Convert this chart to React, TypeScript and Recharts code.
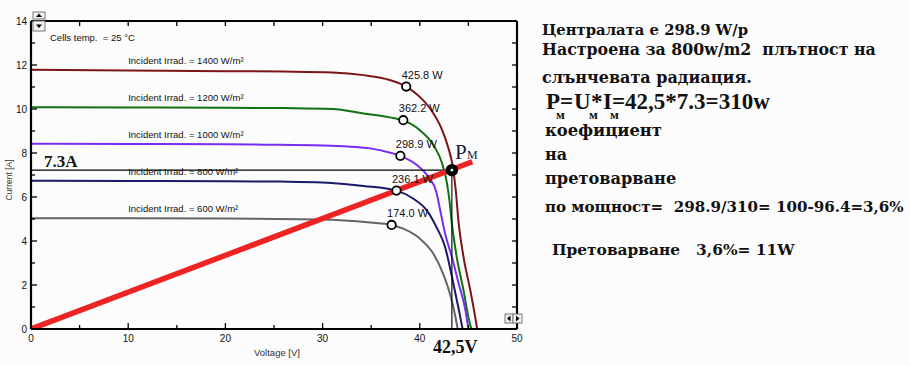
import React from 'react';
import { ComposedChart, Line, Scatter, XAxis, YAxis } from 'recharts';

// I-V curves: [voltage V, current A]
const curve1400 = [
  [0, 11.78], [10, 11.75], [20, 11.72], [26, 11.7], [31, 11.66], [34.2, 11.54], [36.9, 11.32],
  [38.6, 11.02], [40, 10.55], [41.4, 9.8], [42.3, 9.04], [42.9, 8.28], [43.4, 7.37], [43.7, 6.3],
  [44, 4.8], [44.5, 3.27], [45.2, 1.75], [45.7, 0.54], [45.9, 0],
];
const curve1200 = [
  [0, 10.08], [10, 10.07], [20, 10.06], [26, 10.04], [31, 10.0], [34.2, 9.8], [36.9, 9.62],
  [38.3, 9.48], [40, 9.04], [41.4, 8.36], [42.3, 7.52], [42.8, 6.61], [43.05, 5.85], [43.3, 4.79],
  [43.8, 3.27], [44.5, 1.75], [45, 0.54], [45.3, 0],
];
const curve1000 = [
  [0, 8.42], [10, 8.41], [20, 8.4], [24, 8.38], [30, 8.34], [34.9, 8.21], [36.6, 8.05],
  [38, 7.87], [39.7, 7.45], [40.9, 6.91], [41.7, 6.23], [42.1, 5.4], [42.6, 4.34], [43.3, 3.27],
  [44, 2.06], [44.7, 0.84], [45, 0],
];
const curve800 = [
  [0, 6.74], [10, 6.73], [20, 6.72], [25.6, 6.7], [30, 6.66], [34.2, 6.5], [37.6, 6.29],
  [39.3, 5.93], [40.7, 5.4], [41.7, 4.64], [42.6, 3.73], [43.1, 2.81], [43.6, 1.75], [44.1, 0.69],
  [44.4, 0],
];
const curve600 = [
  [0, 5.03], [10, 5.03], [20, 5.02], [30, 4.98], [34.9, 4.84], [37.1, 4.73], [38.3, 4.56],
  [40, 4.11], [41.4, 3.42], [42.4, 2.51], [43.1, 1.6], [43.6, 0.69], [43.9, 0],
];

// maximum power points and their labels
const mppPoints = [[38.6, 11.02], [38.3, 9.49], [38.0, 7.87], [37.6, 6.29], [37.1, 4.73]];
const mppLabels = ['425.8 W', '362.2 W', '298.9 W', '236.1 W', '174.0 W'];

// irradiance captions sit just above each curve at 10 V
const irradLevels = [1400, 1200, 1000, 800, 600];
const irradCurrents = [11.74, 10.07, 8.4, 6.72, 5.02];

const loadLine = [[0, 0], [45.4, 7.6]];
const pmGuide = [[0, 7.22], [43.3, 7.22], [43.3, 0]];
const pmPoint = [[43.3, 7.22]];

const voltageTicks = [0, 5, 10, 15, 20, 25, 30, 35, 40, 45, 50];
const currentTicks = [0, 1, 2, 3, 4, 5, 6, 7, 8, 9, 10, 11, 12, 13, 14];

const pts = (arr: number[][]) => arr.map(([v, i]) => ({ v, i }));

const series = [
  { key: '1400', data: curve1400, color: '#7c1518' },
  { key: '1200', data: curve1200, color: '#0f7312' },
  { key: '1000', data: curve1000, color: '#7a2cf0' },
  { key: '800', data: curve800, color: '#1b1a68' },
  { key: '600', data: curve600, color: '#666666' },
];

const sans = '"Liberation Sans", Arial, sans-serif';
const serif = '"Liberation Serif", "Times New Roman", serif';
const bookSerif = '"DejaVu Serif", serif';
const sp = (s: string) => s.replace(/ /g, '\u00A0');

const BottomTick = (p: any) => {
  const major = p.payload.value % 10 === 0;
  return (
    <g>
      <line x1={p.x} y1={p.y} x2={p.x} y2={p.y - (major ? 6 : 4)} stroke="#000" strokeWidth={1.3} />
      {major && (
        <text x={p.x} y={p.y + 13} textAnchor="middle" fontSize={10} fontFamily={sans} fill="#111">
          {p.payload.value}
        </text>
      )}
    </g>
  );
};

const LeftTick = (p: any) => {
  const major = p.payload.value % 2 === 0;
  return (
    <g>
      <line x1={p.x} y1={p.y} x2={p.x + (major ? 6 : 4)} y2={p.y} stroke="#000" strokeWidth={1.3} />
      {major && (
        <text x={p.x - 4} y={p.y + 3.5} textAnchor="end" fontSize={10} fontFamily={sans} fill="#111">
          {p.payload.value}
        </text>
      )}
    </g>
  );
};

const TopTick = (p: any) => (
  <line x1={p.x} y1={p.y} x2={p.x} y2={p.y + 5} stroke="#000" strokeWidth={1.3} />
);

const RightTick = (p: any) => (
  <line x1={p.x} y1={p.y} x2={p.x - 5} y2={p.y} stroke="#000" strokeWidth={1.3} />
);

const MppShape = (p: any) => (
  <g>
    <circle cx={p.cx} cy={p.cy} r={4.2} fill="#fff" stroke="#000" strokeWidth={1.8} />
    <text x={p.cx - 4.5} y={p.cy - 12} dominantBaseline="central" fontSize={11} fontFamily={sans} fill="#111">
      {p.payload.label}
    </text>
  </g>
);

const IrradShape = (p: any) => (
  <text x={p.cx} y={p.cy - 10} dominantBaseline="central" fontSize={9.5} fontFamily={sans} fill="#111">
    {`Incident Irrad. = ${p.payload.level} W/m²`}
  </text>
);

const PmShape = (p: any) => (
  <g>
    <circle cx={p.cx} cy={p.cy} r={5.5} fill="#000" stroke="#000" strokeWidth={1.5} />
    <circle cx={p.cx} cy={p.cy} r={1.3} fill="#fff" />
    <text x={p.cx + 3} y={p.cy - 11} fontSize={21} fontFamily={serif} fill="#1a1a3a">P</text>
    <text x={p.cx + 15} y={p.cy - 11} fontSize={12} fontFamily={serif} fill="#1a1a3a">М</text>
  </g>
);

const ScrollBtn = ({ x, y, w, h, dir }: any) => {
  const cx = x + w / 2;
  const cy = y + h / 2;
  const t =
    dir === 'up' ? `${cx - 3},${cy + 1.5} ${cx + 3},${cy + 1.5} ${cx},${cy - 2}` :
    dir === 'down' ? `${cx - 3},${cy - 1.5} ${cx + 3},${cy - 1.5} ${cx},${cy + 2}` :
    dir === 'left' ? `${cx + 1.5},${cy - 3} ${cx + 1.5},${cy + 3} ${cx - 2},${cy}` :
    `${cx - 1.5},${cy - 3} ${cx - 1.5},${cy + 3} ${cx + 2},${cy}`;
  return (
    <g>
      <rect x={x} y={y} width={w} height={h} fill="#f2f2f2" stroke="#777" strokeWidth={1} />
      <polygon points={t} fill="#000" />
    </g>
  );
};

export default function App() {
  return (
    <div style={{ position: 'absolute', left: 0, top: 0, width: 910, height: 366, background: '#fcfcfc', overflow: 'hidden' }}>
      <ComposedChart width={530} height={366} margin={{ top: 20, right: 12, bottom: 0, left: 0 }}>
        <XAxis
          xAxisId="b" dataKey="v" type="number" domain={[0, 50]} ticks={voltageTicks} interval={0}
          height={37} tickSize={0} tickMargin={0} tickLine={false} tick={BottomTick}
          axisLine={{ stroke: '#000', strokeWidth: 2.2 }} allowDataOverflow
        />
        <XAxis
          xAxisId="t" orientation="top" dataKey="v" type="number" domain={[0, 50]} ticks={voltageTicks}
          interval={0} height={1} tickSize={0} tickMargin={0} tickLine={false} tick={TopTick}
          axisLine={{ stroke: '#000', strokeWidth: 2.2 }} allowDataOverflow
        />
        <YAxis
          yAxisId="l" type="number" domain={[0, 14]} ticks={currentTicks} interval={0} width={31}
          tickSize={0} tickMargin={0} tickLine={false} tick={LeftTick}
          axisLine={{ stroke: '#000', strokeWidth: 2.2 }} allowDataOverflow
        />
        <YAxis
          yAxisId="r" orientation="right" type="number" domain={[0, 14]} ticks={currentTicks} interval={0}
          width={1} tickSize={0} tickMargin={0} tickLine={false} tick={RightTick}
          axisLine={{ stroke: '#000', strokeWidth: 2.2 }} allowDataOverflow
        />
        {series.map((s) => (
          <Line
            key={s.key} xAxisId="b" yAxisId="l" data={pts(s.data)} dataKey="i" type="monotone"
            stroke={s.color} strokeWidth={2} dot={false} activeDot={false} isAnimationActive={false}
          />
        ))}
        <Line
          xAxisId="b" yAxisId="l" data={pts(pmGuide)} dataKey="i" type="linear"
          stroke="#000" strokeWidth={1.1} dot={false} activeDot={false} isAnimationActive={false}
        />
        <Scatter
          xAxisId="b" yAxisId="l" dataKey="i" isAnimationActive={false} shape={IrradShape}
          data={irradLevels.map((level, k) => ({ v: 10, i: irradCurrents[k], level }))}
        />
        <Scatter
          xAxisId="b" yAxisId="l" dataKey="i" isAnimationActive={false} shape={MppShape}
          data={mppPoints.map(([v, i], k) => ({ v, i, label: mppLabels[k] }))}
        />
        <Line
          xAxisId="b" yAxisId="l" data={pts(loadLine)} dataKey="i" type="linear"
          stroke="#ee2424" strokeWidth={5.5} dot={false} activeDot={false} isAnimationActive={false}
        />
        <Scatter
          xAxisId="b" yAxisId="l" dataKey="i" isAnimationActive={false} shape={PmShape}
          data={pts(pmPoint)}
        />
      </ComposedChart>

      <svg width={910} height={366} style={{ position: 'absolute', left: 0, top: 0, pointerEvents: 'none' }}>
        <ScrollBtn x={33} y={12} w={12} h={7} dir="up" />
        <ScrollBtn x={33} y={21} w={12} h={10} dir="down" />
        <ScrollBtn x={505} y={314} w={8} h={9} dir="left" />
        <ScrollBtn x={513} y={314} w={9} h={9} dir="right" />

        <text x={50} y={41} fontSize={9.5} fontFamily={sans} fill="#111">{sp('Cells temp.  = 25 °C')}</text>
        <text x={9} y={180} transform="rotate(-90 9 180)" textAnchor="middle" dominantBaseline="central" fontSize={8.5} fontFamily={sans} fill="#333">Current [A]</text>
        <text x={277} y={356} textAnchor="middle" fontSize={9.5} fontFamily={sans} fill="#333">Voltage [V]</text>
        <text x={44} y={166.5} fontSize={17} fontWeight="bold" fontFamily={serif} fill="#111">7.3A</text>
        <text x={433} y={353} fontSize={18} fontWeight="bold" fontFamily={serif} fill="#111">42,5V</text>

        <g fontFamily={bookSerif} fontWeight="bold" fill="#111">
          <text x={542} y={35} fontSize={14.8}>Централата е 298.9 W/p</text>
          <text x={542} y={55} fontSize={15.8}>{sp('Настроена за 800w/m2  плътност на')}</text>
          <text x={542} y={82.5} fontSize={16}>слънчевата радиация.</text>
          <text x={545} y={136} fontSize={16.4}>коефициент</text>
          <text x={545} y={160} fontSize={16}>на</text>
          <text x={545} y={184} fontSize={16.2}>претоварване</text>
          <text x={545} y={211.5} fontSize={15.1}>{sp('по мощност=  298.9/310= 100-96.4=3,6%')}</text>
          <text x={552} y={255} fontSize={15.4}>{sp('Претоварване   3,6%= 11W')}</text>
        </g>
        <g fontFamily={serif} fontWeight="bold" fill="#111">
          <text x={546} y={109} fontSize={23}>P</text>
          <text x={560} y={109} fontSize={23}>=</text>
          <text x={574} y={109} fontSize={23}>U</text>
          <text x={591} y={109} fontSize={23}>*</text>
          <text x={603} y={109} fontSize={23}>I</text>
          <text x={612} y={109} fontSize={23}>=42,5*7.3=310w</text>
          <text x={556} y={119} fontSize={13}>м</text>
          <text x={589} y={119} fontSize={13}>м</text>
          <text x={610} y={119} fontSize={13}>м</text>
        </g>
      </svg>
    </div>
  );
}
